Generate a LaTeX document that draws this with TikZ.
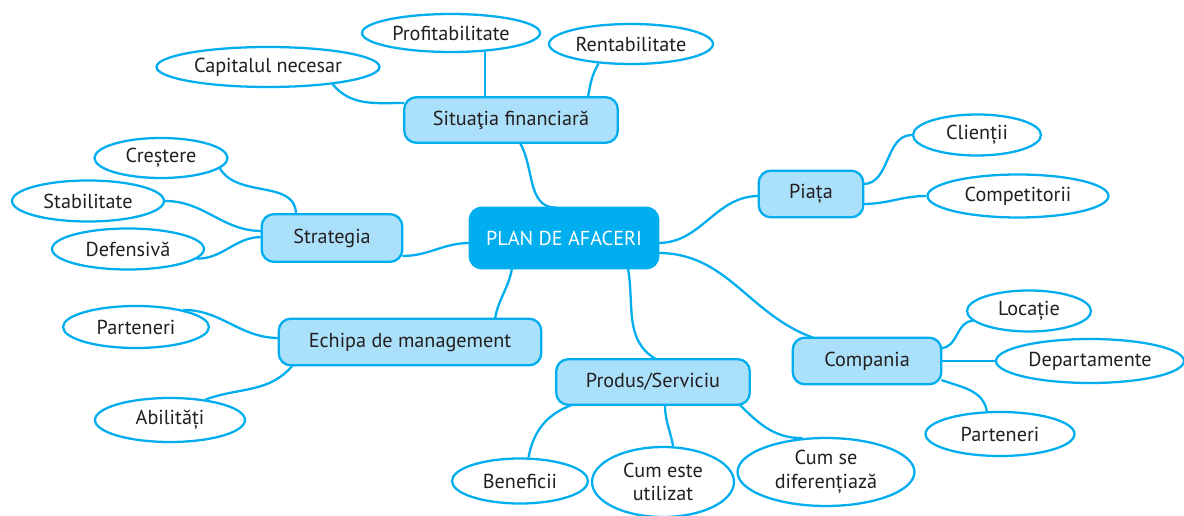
\documentclass[tikz,border=0pt]{standalone}
\usepackage{fontspec}
\setmainfont{PT Sans}
\usetikzlibrary{shapes.geometric,backgrounds}
\definecolor{cian}{RGB}{0,174,239}
\definecolor{celeste}{RGB}{171,224,250}
\definecolor{texto}{RGB}{35,31,32}

\begin{document}
\begin{tikzpicture}[x=0.02cm,y=0.02cm,
    font=\fontsize{11.5}{13.5}\selectfont, text=texto,
    tema/.style={inner sep=0pt, align=center},
    idea/.style={ellipse, draw=cian, line width=1.3pt, fill=white, inner sep=0pt, align=center},
    rama/.style={draw=cian, line width=1.3pt},
    caja/.style={draw=cian, line width=1.3pt, rounded corners=7pt}]

    % Marco
    \useasboundingbox (0,0) rectangle (1184,-516);

    % Nodo central y temas
    \node[tema, text=white, minimum width=3.76cm, minimum height=1.2cm] (plan) at (564,-238) {PLAN DE AFACERI};
    \node[tema, minimum width=4.26cm, minimum height=0.9cm] (sit) at (511,-120) {Situaţia financiară};
    \node[tema, minimum width=2.08cm, minimum height=0.92cm] (piata) at (811,-194) {Piața};
    \node[tema, minimum width=2.8cm, minimum height=0.94cm] (strat) at (332,-238) {Strategia};
    \node[tema, minimum width=5.24cm, minimum height=0.92cm] (echipa) at (410,-342) {Echipa de management};
    \node[tema, minimum width=3.86cm, minimum height=0.9cm] (produs) at (653,-382) {Produs/Serviciu};
    \node[tema, minimum width=2.96cm, minimum height=0.92cm] (compania) at (867,-361) {Compania};

    % Cajas: esquina inferior derecha recta
    \begin{scope}[on background layer]
        \foreach \n/\col in {plan/cian, sit/celeste, piata/celeste, strat/celeste,
                             echipa/celeste, produs/celeste, compania/celeste}
            \draw[caja, fill=\col] (\n.south) -- (\n.south west) -- (\n.north west)
                -- (\n.north east) -- (\n.south east) [sharp corners] -- cycle;
    \end{scope}

    % Ideas (elipses)
    \node[idea, minimum width=4.46cm, minimum height=0.8cm] (capital) at (268,-67) {Capitalul necesar};
    \node[idea, minimum width=3.56cm, minimum height=0.76cm] (profit) at (451,-33) {Profitabilitate};
    \node[idea, minimum width=3.28cm, minimum height=0.8cm] (rentab) at (631,-44) {Rentabilitate};
    \node[idea, minimum width=2.66cm, minimum height=0.8cm] (crestere) at (161,-158) {Creștere};
    \node[idea, minimum width=3.04cm, minimum height=0.82cm] (stabil) at (88,-201) {Stabilitate};
    \node[idea, minimum width=3.04cm, minimum height=0.82cm] (defens) at (128,-249) {Defensivă};
    \node[idea, minimum width=2.56cm, minimum height=0.82cm] (clienti) at (977,-135) {Clienții};
    \node[idea, minimum width=3.62cm, minimum height=0.86cm] (compet) at (1018,-196) {Competitorii};
    \node[idea, minimum width=2.92cm, minimum height=0.84cm] (partA) at (136,-327) {Parteneri};
    \node[idea, minimum width=3.0cm, minimum height=0.88cm] (abil) at (170,-420) {Abilități};
    \node[idea, minimum width=2.72cm, minimum height=0.9cm] (benef) at (520,-481) {Beneficii};
    \node[idea, minimum width=2.84cm, minimum height=1.4cm] (cumeste) at (663,-482) {Cum este\\utilizat};
    \node[idea, minimum width=3.54cm, minimum height=1.36cm] (cumse) at (826,-472) {Cum se\\diferențiază};
    \node[idea, minimum width=2.48cm, minimum height=0.82cm] (locatie) at (1029,-311) {Locație};
    \node[idea, minimum width=3.76cm, minimum height=0.88cm] (depart) at (1090,-361) {Departamente};
    \node[idea, minimum width=2.98cm, minimum height=0.88cm] (partB) at (1000,-434) {Parteneri};

    % Ramas principales
    \draw[rama] ([shift={(9,0)}]sit.south) to[out=-60, in=180] ([shift={(-8,0)}]plan.north);
    \draw[rama] ([shift={(0,-5)}]plan.west) to[out=180, in=0] ([shift={(0,-18)}]strat.east);
    \draw[rama] ([shift={(0,-5)}]plan.east) to[out=0, in=180] ([shift={(0,-2)}]piata.west);
    \draw[rama] ([shift={(0,-15)}]plan.east) to[out=0, in=160] ([shift={(-54,0)}]compania.north);
    \draw[rama] ([shift={(-52,0)}]plan.south) to[out=-100, in=80] ([shift={(85,0)}]echipa.north);
    \draw[rama] ([shift={(64,0)}]plan.south) to[out=-80, in=150] ([shift={(3,0)}]produs.north);

    % Situatia financiara
    \draw[rama] (capital.-15) to[out=-50, in=180] ([shift={(0,17)}]sit.west);
    \draw[rama] (profit.-29) -- (profit.-29 |- sit.north);
    \draw[rama] (rentab.-149) to[out=-120, in=80] ([shift={(77,0)}]sit.north);

    % Strategia
    \draw[rama] (crestere.-10) to[out=-60, in=90] ([shift={(-36,0)}]strat.north);
    \draw[rama] (stabil.east) to[out=0, in=180] ([shift={(0,7)}]strat.west);
    \draw[rama] (defens.-8) to[out=0, in=180] ([shift={(0,1)}]strat.west);

    % Piata
    \draw[rama] ([shift={(0,10)}]piata.east) to[out=0, in=180] (clienti.west);
    \draw[rama] ([shift={(0,-10)}]piata.east) to[out=0, in=180] (compet.west);

    % Echipa de management
    \draw[rama] (partA.20) to[out=0, in=180] ([shift={(0,4)}]echipa.west);
    \draw[rama] (abil.30) to[out=20, in=-130] ([shift={(14,0)}]echipa.south west);

    % Produs/Serviciu
    \draw[rama] ([shift={(16,0)}]produs.south west) to[out=-160, in=80] (benef.70);
    \draw[rama] ([shift={(12,0)}]produs.south) to[out=-90, in=100] ([shift={(10,0)}]cumeste.north);
    \draw[rama] ([shift={(-10,0)}]produs.south east) to[out=-45, in=180] (cumse.125);

    % Compania
    \draw[rama] ([shift={(0,13)}]compania.east) to[out=0, in=180] (locatie.190);
    \draw[rama] (compania.east) -- (depart.west);
    \draw[rama] ([shift={(0,-19)}]compania.east) to[out=-20, in=100] (partB.120);

\end{tikzpicture}
\end{document}
